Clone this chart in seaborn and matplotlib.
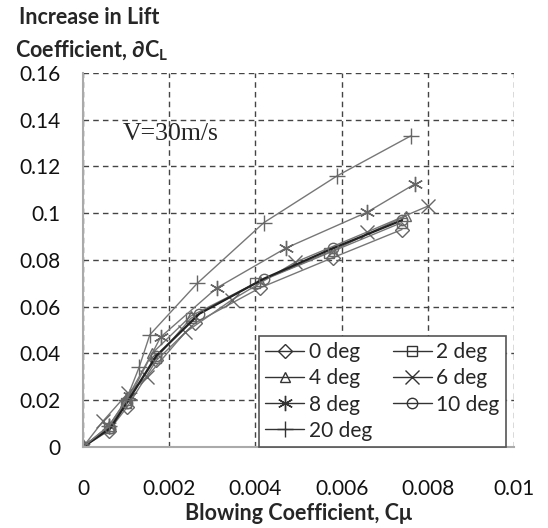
import matplotlib
matplotlib.use("Agg")
import matplotlib.pyplot as plt
import seaborn as sns
import pandas as pd

sns.set_style("white")
plt.rcParams['font.family'] = ['Lato', 'DejaVu Sans']
plt.rcParams['mathtext.fontset'] = 'custom'
plt.rcParams['mathtext.bf'] = 'Lato:bold'
plt.rcParams['mathtext.rm'] = 'Lato'

# 数据
cmu_0 = [0, 0.0006, 0.00102, 0.0017, 0.0026, 0.0041, 0.0058, 0.0074]
cl_0 = [0, 0.007, 0.017, 0.037, 0.053, 0.068, 0.081, 0.093]
cmu_2 = [0, 0.0006, 0.0010, 0.0017, 0.0025, 0.0040, 0.0057, 0.0074]
cl_2 = [0, 0.008, 0.019, 0.038, 0.055, 0.070, 0.083, 0.096]
cmu_4 = [0, 0.0006, 0.0010, 0.0016, 0.0025, 0.0041, 0.0058, 0.0075]
cl_4 = [0, 0.009, 0.020, 0.040, 0.056, 0.071, 0.084, 0.099]
cmu_6 = [0, 0.00046, 0.00104, 0.00148, 0.00237, 0.00346, 0.00492, 0.0066, 0.0080]
cl_6 = [0, 0.011, 0.023, 0.030, 0.049, 0.063, 0.079, 0.092, 0.103]
cmu_8 = [0, 0.0006, 0.0011, 0.0018, 0.0031, 0.0047, 0.0066, 0.0077]
cl_8 = [0, 0.009, 0.022, 0.047, 0.068, 0.085, 0.1005, 0.1125]
cmu_10 = [0, 0.00063, 0.00102, 0.0017, 0.0027, 0.0042, 0.0058, 0.0074]
cl_10 = [0, 0.008, 0.019, 0.039, 0.057, 0.072, 0.085, 0.097]
cmu_20 = [0, 0.0006, 0.0010, 0.0013, 0.00155, 0.00265, 0.0042, 0.0059, 0.0076]
cl_20 = [0, 0.009, 0.020, 0.034, 0.048, 0.070, 0.096, 0.116, 0.133]

labels = ['0 deg', '2 deg', '4 deg', '6 deg', '8 deg', '10 deg', '20 deg']
xs = [cmu_0, cmu_2, cmu_4, cmu_6, cmu_8, cmu_10, cmu_20]
ys = [cl_0, cl_2, cl_4, cl_6, cl_8, cl_10, cl_20]

xticks = [0, 0.002, 0.004, 0.006, 0.008, 0.01]
xticklabels = ['0', '0.002', '0.004', '0.006', '0.008', '0.01']
yticks = [0, 0.02, 0.04, 0.06, 0.08, 0.1, 0.12, 0.14, 0.16]
yticklabels = ['0', '0.02', '0.04', '0.06', '0.08', '0.1', '0.12', '0.14', '0.16']

markers = ['D', 's', '^', 'x', (6, 2, 0), 'o', '+']
msizes = [7, 7, 7.5, 10, 11, 7.5, 12]
colors = ['#777777', '#777777', '#777777', '#777777', '#777777', '#222222', '#777777']
lws = [1.0, 1.0, 1.0, 1.0, 1.0, 1.6, 1.0]

fig = plt.figure(figsize=(5.48, 5.28), dpi=100)
ax = fig.add_axes([0.1515, 0.1534, 0.7865, 0.7086])

for lab, x, y, m, ms, c, lw in zip(labels, xs, ys, markers, msizes, colors, lws):
    df = pd.DataFrame({'cmu': x, 'dcl': y})
    sns.lineplot(data=df, x='cmu', y='dcl', ax=ax, sort=False, color=c,
                 linewidth=lw, marker=m, markersize=ms, markerfacecolor='none',
                 markeredgecolor='#666666', markeredgewidth=1.0, label=lab)

ax.set_xlim(0, 0.01)
ax.set_ylim(0, 0.16)
ax.set_xticks(xticks)
ax.set_xticklabels(xticklabels)
ax.set_yticks(yticks)
ax.set_yticklabels(yticklabels)
ax.tick_params(axis='both', labelsize=15, colors='#111111', length=4, width=1, direction='out')
ax.tick_params(axis='x', pad=19)
ax.tick_params(axis='y', pad=12)
for t in ax.get_xticklines() + ax.get_yticklines():
    t.set_color('#555555')

ax.grid(True, linestyle=(0, (4, 3)), color='#444444', linewidth=1.0)
ax.set_axisbelow(True)
for s in ['top', 'right']:
    ax.spines[s].set_visible(False)
for s in ['left', 'bottom']:
    ax.spines[s].set_color('#aaaaaa')
    ax.spines[s].set_linewidth(1.5)
    ax.spines[s].set_zorder(5)

ax.set_xlabel('Blowing Coefficient, Cμ', fontsize=15.5, fontweight='bold', labelpad=3)
ax.set_ylabel('')

fig.text(0.035, 0.966, 'Increase in Lift', fontsize=15.5, fontweight='bold', va='center', ha='left')
fig.text(0.027, 0.903, r'Coefficient, ∂C$_\mathbf{L}$', fontsize=15.5, fontweight='bold', va='center', ha='left')

ax.text(0.00093, 0.134, 'V=30m/s', fontsize=18.5, family='Liberation Serif', va='center', ha='left')

# 图例: 两列, 按行排列
h, l = ax.get_legend_handles_labels()
order = [0, 2, 4, 6, 1, 3, 5]
leg = ax.legend([h[i] for i in order], [l[i] for i in order], ncol=2,
                loc='lower right', bbox_to_anchor=(0.981, 0.0), borderaxespad=0,
                fontsize=15, frameon=True, fancybox=False, framealpha=1,
                edgecolor='#555555', handlelength=1.9, handletextpad=0.2,
                columnspacing=1.0, labelspacing=0.3, borderpad=0.3)
leg.get_frame().set_linewidth(1.2)
for lh in leg.get_lines():
    lh.set_color('#333333')
    lh.set_markeredgecolor('#333333')
    lh.set_linewidth(1.0)
leg.set_zorder(10)

plt.savefig('out.png', dpi=100)
